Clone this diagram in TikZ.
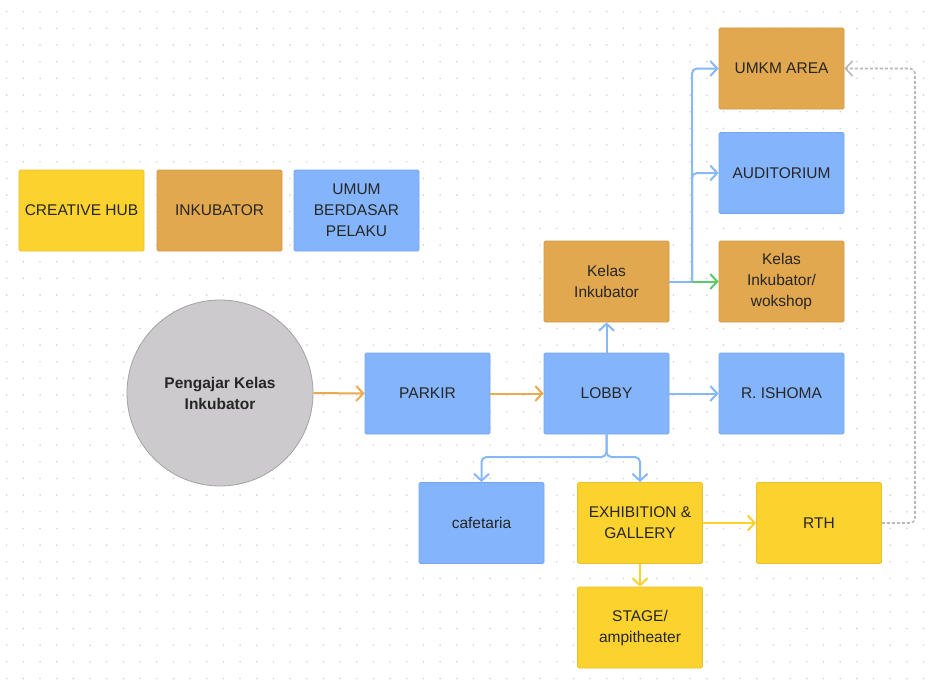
\documentclass[tikz,border=0pt]{standalone}
\usepackage{fontspec}
\setmainfont{Liberation Sans}
\usetikzlibrary{arrows.meta}
\definecolor{cyel}{HTML}{FCD22F}
\definecolor{cyelb}{HTML}{E9C12C}
\definecolor{cora}{HTML}{E2A84F}
\definecolor{corab}{HTML}{D39A45}
\definecolor{cblu}{HTML}{84B5FC}
\definecolor{cblub}{HTML}{74A5EE}
\definecolor{cgry}{HTML}{CCCACC}
\definecolor{cgryb}{HTML}{A3A3A3}
\definecolor{ctxt}{HTML}{262626}
\definecolor{lora}{HTML}{EBA94F}
\definecolor{lblu}{HTML}{88B8FC}
\definecolor{lgrn}{HTML}{5CC96C}
\definecolor{lyel}{HTML}{FCD22F}
\definecolor{lgry}{HTML}{B8B8B8}
\definecolor{cdot}{HTML}{D2D2D2}
\tikzset{
  boxbase/.style={rectangle, rounded corners=1.5pt, minimum width=125pt, minimum height=81pt,
    inner sep=2pt, align=center, text=ctxt, line width=0.8pt,
    font=\fontsize{15.5}{21}\selectfont},
  ybox/.style={boxbase, fill=cyel, draw=cyelb},
  obox/.style={boxbase, fill=cora, draw=corab},
  bbox/.style={boxbase, fill=cblu, draw=cblub},
  conn/.style={line width=2pt, -{Straight Barb[length=7pt,width=15pt,line width=2pt]}},
  plainconn/.style={line width=2pt},
}
\begin{document}
\begin{tikzpicture}[x=1pt,y=-1pt]
\useasboundingbox (0,0) rectangle (936,693);
\fill[white] (0,0) rectangle (936,693);
% dotted grid
\foreach \i in {0,...,55}{
  \foreach \j in {0,...,41}{
    \fill[cdot] ({6.7+16.67*\i},{11.7+16.67*\j}) circle (0.9);
  }
}
% legend
\node[ybox] (lhub) at (81.5,210.5) {CREATIVE HUB};
\node[obox] (linku) at (219.5,210.5) {INKUBATOR};
\node[bbox] (lumum) at (356.5,210.5) {UMUM\\BERDASAR\\PELAKU};
% main
\node[circle, fill=cgry, draw=cgryb, line width=0.8pt, minimum size=186pt, align=center,
  text=ctxt, font=\bfseries\fontsize{15.5}{21}\selectfont] (peng) at (220,393) {Pengajar Kelas\\Inkubator};
\node[bbox] (parkir) at (427.5,393.5) {PARKIR};
\node[bbox] (lobby) at (606.5,393.5) {LOBBY};
\node[bbox] (isho) at (781.5,393.5) {R. ISHOMA};
\node[obox] (ki) at (606.5,281.5) {Kelas\\Inkubator};
\node[obox] (umkm) at (781.5,68.5) {UMKM AREA};
\node[bbox] (aud) at (781.5,173) {AUDITORIUM};
\node[obox] (kiw) at (781.5,281.5) {Kelas\\Inkubator/\\wokshop};
\node[bbox] (cafe) at (481.5,523) {cafetaria};
\node[ybox] (exh) at (640,523) {EXHIBITION \&\\GALLERY};
\node[ybox] (stage) at (640,627.5) {STAGE/\\ampitheater};
\node[ybox] (rth) at (819,523) {RTH};
% connectors
\draw[conn, lora] (peng.east) -- (parkir.west);
\draw[conn, lora] (parkir.east) -- (lobby.west);
\draw[conn, lblu] (lobby.east) -- (isho.west);
\draw[conn, lblu] (lobby.north) -- (ki.south);
\coordinate (br) at (692,281.5);
\draw[plainconn, lblu] (ki.east) -- (br);
\draw[conn, lblu, rounded corners=5pt] (br) |- (umkm.west);
\draw[conn, lblu, rounded corners=5pt] (br) |- (aud.west);
\draw[conn, lgrn] (br) -- (kiw.west);
\coordinate (lb) at (606.5,457);
\draw[conn, lblu, rounded corners=5pt] (lobby.south) -- (lb) -| (cafe.north);
\draw[conn, lblu, rounded corners=5pt] (lobby.south) -- (lb) -| (exh.north);
\draw[conn, lyel] (exh.east) -- (rth.west);
\draw[conn, lyel] (exh.south) -- (stage.north);
\coordinate (dc) at (915,68.5);
\draw[lgry, line width=1.6pt, dash pattern=on 3pt off 2pt, rounded corners=5pt,
  -{Straight Barb[length=7pt,width=15pt,line width=1.6pt]}] (rth.east) -| (dc) -- (umkm.east);
\end{tikzpicture}
\end{document}
